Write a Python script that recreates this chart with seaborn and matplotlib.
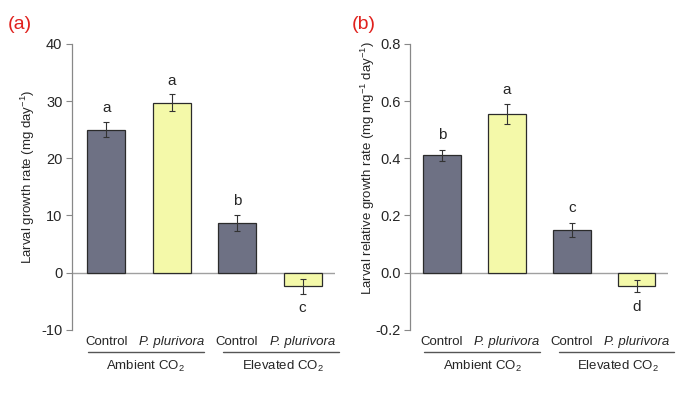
import numpy as np
import pandas as pd
import matplotlib
matplotlib.use("Agg")
import matplotlib.pyplot as plt
import matplotlib.transforms as mtransforms
import seaborn as sns

# dados
grupos = ["Ambient", "Ambient", "Elevated", "Elevated"]
tratamentos = ["Control", "P. plurivora", "Control", "P. plurivora"]
crescimento = [25.0, 29.7, 8.7, -2.4]
crescimento_erro = [1.3, 1.45, 1.4, 1.3]
crescimento_letras = ["a", "a", "b", "c"]
relativo = [0.41, 0.553, 0.15, -0.047]
relativo_erro = [0.02, 0.035, 0.025, 0.022]
relativo_letras = ["b", "a", "c", "d"]
rotulos_grupo = ["Ambient CO$_2$", "Elevated CO$_2$"]

cores = {"Control": "#6e7184", "P. plurivora": "#f4f9a9"}

sns.set_style("white")
plt.rcParams["font.family"] = ["Liberation Sans", "DejaVu Sans"]
plt.rcParams["mathtext.fontset"] = "custom"
plt.rcParams["mathtext.rm"] = "Liberation Sans"
plt.rcParams["axes.unicode_minus"] = False


def painel(ax, valores, erros, letras, ylim, passo, ylabel, desloc, linhas, centros, fmt,
           pos_label):
    df = pd.DataFrame({"cond": [g + t for g, t in zip(grupos, tratamentos)],
                       "trat": tratamentos, "valor": valores})
    sns.barplot(data=df, x="cond", y="valor", hue="trat", palette=cores, dodge=False,
                width=0.58, saturation=1, edgecolor="#2b2b2b", linewidth=0.9,
                legend=False, ax=ax)
    x = np.arange(len(valores))
    ax.errorbar(x, valores, yerr=erros, fmt="none", ecolor="#333333", elinewidth=0.8,
                capsize=2.5, capthick=0.8)
    for xi, v, e, l in zip(x, valores, erros, letras):
        if v >= 0:
            ax.text(xi, v + e + desloc, l, ha="center", va="center", fontsize=11)
        else:
            ax.text(xi, v - e - desloc, l, ha="center", va="center", fontsize=11)
    ax.axhline(0, color="#a0a0a0", lw=1.0, zorder=0)
    ax.set_ylim(*ylim)
    ax.set_yticks(np.arange(ylim[0], ylim[1] + passo / 2, passo))
    ax.yaxis.set_major_formatter(plt.FormatStrFormatter(fmt))
    for s in ["top", "right", "bottom"]:
        ax.spines[s].set_visible(False)
    ax.spines["left"].set_color("#888888")
    ax.spines["left"].set_linewidth(0.9)
    ax.tick_params(axis="y", left=True, direction="out", length=4, color="#888888",
                   labelsize=10.5, pad=3)
    ax.tick_params(axis="x", bottom=False, labelsize=9.5, pad=1)
    ax.set_xticks(x)
    ax.set_xticklabels(tratamentos)
    for i, t in enumerate(ax.get_xticklabels()):
        if i % 2 == 1:
            t.set_fontstyle("italic")
    ax.set_xlabel("")
    ax.set_ylabel(ylabel, fontsize=9.5)
    ax.yaxis.set_label_coords(*pos_label)
    trans = mtransforms.blended_transform_factory(ax.transData, ax.transAxes)
    for (x0, x1), xc, rot in zip(linhas, centros, rotulos_grupo):
        ax.plot([x0, x1], [-0.077, -0.077], color="#555555", lw=1.0, transform=trans,
                clip_on=False)
        ax.text(xc, -0.128, rot, ha="center", va="center", fontsize=9.5, transform=trans)


fig = plt.figure(figsize=(7, 3.95), dpi=100)
ax1 = fig.add_axes([0.103, 0.165, 0.376, 0.724])
ax2 = fig.add_axes([0.586, 0.165, 0.368, 0.724])

painel(ax1, crescimento, crescimento_erro, crescimento_letras, (-10, 40), 10,
       "Larval growth rate (mg day$^{-1}$)", 2.4,
       [(-0.28, 1.49), (1.79, 3.55)], [0.6, 2.7], "%d", (-0.135, 0.535))
ax1.set_xlim(-0.52, 3.5)
painel(ax2, relativo, relativo_erro, relativo_letras, (-0.2, 0.8), 0.2,
       "Larval relative growth rate (mg mg$^{-1}$ day$^{-1}$)", 0.05,
       [(-0.28, 1.51), (1.8, 3.57)], [0.63, 2.71], "%.1f", (-0.13, 0.566))
ax2.set_xlim(-0.49, 3.48)

fig.text(0.029, 0.937, "(a)", color="#e0211d", fontsize=14, ha="center", va="center")
fig.text(0.52, 0.937, "(b)", color="#e0211d", fontsize=14, ha="center", va="center")

fig.savefig("out.png", dpi=100)
